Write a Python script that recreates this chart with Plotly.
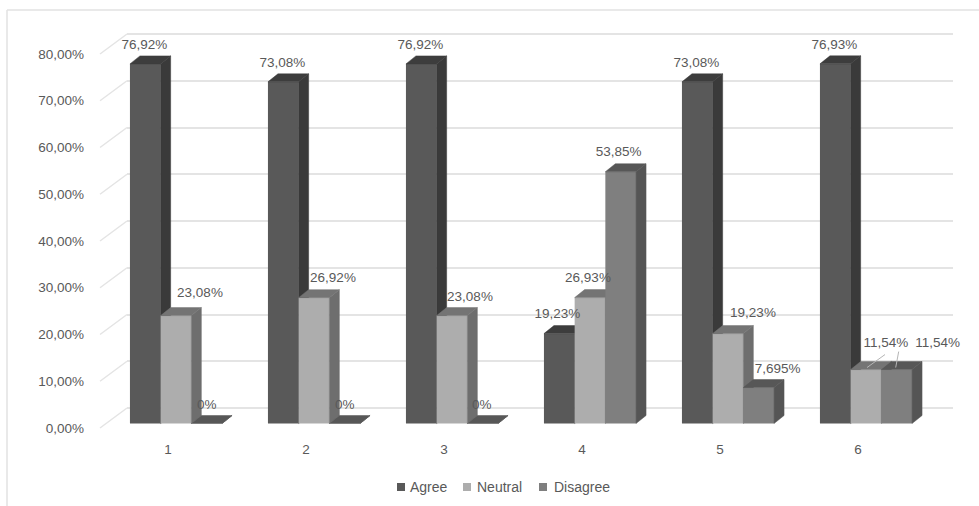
import plotly.graph_objects as go

# Survey results per question, in percent
questions = [1, 2, 3, 4, 5, 6]
agree = [76.92, 73.08, 76.92, 19.23, 73.08, 76.93]
neutral = [23.08, 26.92, 23.08, 26.93, 19.23, 11.54]
disagree = [0, 0, 0, 53.85, 7.695, 11.54]

agree_labels = ["76,92%", "73,08%", "76,92%", "19,23%", "73,08%", "76,93%"]
neutral_labels = ["23,08%", "26,92%", "23,08%", "26,93%", "19,23%", "11,54%"]
disagree_labels = ["0%", "0%", "0%", "53,85%", "7,695%", "11,54%"]

y_ticks = [0, 10, 20, 30, 40, 50, 60, 70, 80]
y_tick_labels = ["0,00%", "10,00%", "20,00%", "30,00%", "40,00%",
                 "50,00%", "60,00%", "70,00%", "80,00%"]

# Label placement relative to the top centre of each bar, in pixels
agree_nudge = [(-1, -18), (-1, -18), (-1, -18), (-2, -19), (-1, -18), (-1, -18)]
neutral_nudge = [(24, -22), (19, -19), (18, -18), (-2, -19), (25, -20), (20, -26)]
disagree_nudge = [(0, -18), (0, -18), (-1, -18), (-2, -19), (19, -18), (41, -26)]

# Layout of the drawing, in pixels
WIDTH, HEIGHT = 979, 506
LEFT, RIGHT, TOP, BOTTOM = 127, 953, 30, 430
PX_PER_GROUP = 138.0
PX_PER_UNIT = 4.675
WALL_ZERO = 408.0      # zero line on the back wall
FRONT_ZERO = 423.5     # foot of the bars
FIRST_CENTRE = 176.0   # centre of the first group of bars
BAR_PX = 30.7
DEPTH_X_PX, DEPTH_Y_PX = 10.0, 8.0
WALL_X_PX, WALL_Y_PX = 27.0, 20.0

TEXT = "#595959"
GRID = "#e4e4e4"
FONT = "Liberation Sans"
FONT_SIZE = 13.5

x_lo = 1 + (LEFT - FIRST_CENTRE) / PX_PER_GROUP
x_hi = 1 + (RIGHT - FIRST_CENTRE) / PX_PER_GROUP
wall_range = [(WALL_ZERO - BOTTOM) / PX_PER_UNIT, (WALL_ZERO - TOP) / PX_PER_UNIT]
bar_range = [(FRONT_ZERO - BOTTOM) / PX_PER_UNIT, (FRONT_ZERO - TOP) / PX_PER_UNIT]

bar_w = BAR_PX / PX_PER_GROUP
depth_x = DEPTH_X_PX / PX_PER_GROUP
depth_y = DEPTH_Y_PX / PX_PER_UNIT

series = [
    ("Agree", agree, "#595959", "#3a3a3a", "#3d3d3d", "x2", "y2"),
    ("Neutral", neutral, "#adadad", "#6e6e6e", "#747474", "x3", "y3"),
    ("Disagree", disagree, "#7f7f7f", "#555555", "#575757", "x4", "y4"),
]

fig = go.Figure()

# Back wall baseline, which also anchors the base subplot the others overlay
fig.add_trace(go.Scatter(
    x=[x_lo, x_hi], y=[0, 0], mode="lines", line=dict(color=GRID, width=1.5),
    hoverinfo="skip", showlegend=False,
))


def faces(index, values):
    """Outlines of the side and top faces of one series' bars."""
    side_x, side_y, top_x, top_y = [], [], [], []
    for q, v in zip(questions, values):
        x0 = q + (index - 1.5) * bar_w
        x1 = x0 + bar_w
        side_x += [x1, x1 + depth_x, x1 + depth_x, x1, x1, None]
        side_y += [0, depth_y, v + depth_y, v, 0, None]
        top_x += [x0, x0 + depth_x, x1 + depth_x, x1, x0, None]
        top_y += [v, v + depth_y, v + depth_y, v, v, None]
    return side_x, side_y, top_x, top_y


# One overlaid subplot per series so each series paints over the one behind it
for i, (name, values, front, side, top, xa, ya) in enumerate(series):
    sx, sy, tx, ty = faces(i, values)
    fig.add_trace(go.Bar(
        x=questions, y=values, name=name, width=bar_w, offset=(i - 1.5) * bar_w,
        marker=dict(color=front, line=dict(width=0)), xaxis=xa, yaxis=ya,
        showlegend=False,
    ))
    for fx, fy, colour in ((sx, sy, side), (tx, ty, top)):
        fig.add_trace(go.Scatter(
            x=fx, y=fy, mode="lines", fill="toself", fillcolor=colour,
            line=dict(width=0.5, color=colour), xaxis=xa, yaxis=ya,
            cliponaxis=False, hoverinfo="skip", showlegend=False,
        ))

# Value labels, on their own top layer
for i, (values, labels, nudges) in enumerate((
    (agree, agree_labels, agree_nudge),
    (neutral, neutral_labels, neutral_nudge),
    (disagree, disagree_labels, disagree_nudge),
)):
    fig.add_trace(go.Scatter(
        x=[q + (i - 1) * bar_w + n[0] / PX_PER_GROUP for q, n in zip(questions, nudges)],
        y=[v - n[1] / PX_PER_UNIT for v, n in zip(values, nudges)],
        text=labels, mode="text", textposition="middle center",
        textfont=dict(family=FONT, size=FONT_SIZE, color=TEXT),
        xaxis="x5", yaxis="y5", cliponaxis=False,
        hoverinfo="skip", showlegend=False,
    ))

# Leader lines for the two labels that sit away from their bars in question 6
for i, values, (start, end) in (
    (0, neutral, ((19, -15), (1, -2))),
    (1, disagree, ((2, -18), (-1, -2))),
):
    fig.add_trace(go.Scatter(
        x=[questions[-1] + i * bar_w + start[0] / PX_PER_GROUP,
           questions[-1] + i * bar_w + end[0] / PX_PER_GROUP],
        y=[values[-1] - start[1] / PX_PER_UNIT, values[-1] - end[1] / PX_PER_UNIT],
        mode="lines", line=dict(color="#b5b5b5", width=1),
        xaxis="x5", yaxis="y5", cliponaxis=False,
        hoverinfo="skip", showlegend=False,
    ))

layout_axes = {}
for n in (2, 3, 4, 5):
    layout_axes[f"xaxis{n}"] = dict(overlaying="x", range=[x_lo, x_hi], visible=False)
    layout_axes[f"yaxis{n}"] = dict(overlaying="y", range=bar_range, visible=False)


def px_x(px):
    return (px - LEFT) / (RIGHT - LEFT)


def px_y(px):
    return (BOTTOM - px) / (BOTTOM - TOP)


# Chart frame and legend row, placed on the page
shapes = [
    dict(type="line", xref="paper", yref="paper", x0=px_x(7), x1=px_x(WIDTH),
         y0=px_y(10), y1=px_y(10), line=dict(color="#e2e2e2", width=1.5), layer="below"),
    dict(type="line", xref="paper", yref="paper", x0=px_x(7), x1=px_x(7),
         y0=px_y(10), y1=px_y(HEIGHT), line=dict(color="#e2e2e2", width=1.5), layer="below"),
]
# Slanted side wall lines joining the axis labels to the back wall gridlines
for tick in y_ticks:
    shapes.append(dict(
        type="line", xref="paper", yref="y", x0=px_x(LEFT), x1=px_x(LEFT - WALL_X_PX),
        y0=tick, y1=tick - WALL_Y_PX / PX_PER_UNIT,
        line=dict(color=GRID, width=1.5), layer="below",
    ))
annotations = []
for (name, _, front, *_rest), box_left, text_left in zip(series, (397, 463, 539), (408, 475, 552)):
    shapes.append(dict(
        type="rect", xref="paper", yref="paper",
        x0=px_x(box_left), x1=px_x(box_left + 8), y0=px_y(483), y1=px_y(491),
        fillcolor=front, line=dict(width=0),
    ))
    annotations.append(dict(
        text=name, xref="paper", yref="paper", x=px_x(text_left), y=px_y(487),
        xanchor="left", yanchor="middle", showarrow=False,
        font=dict(family=FONT, size=14, color=TEXT),
    ))

fig.update_layout(
    width=WIDTH, height=HEIGHT,
    margin=dict(l=LEFT, r=WIDTH - RIGHT, t=TOP, b=HEIGHT - BOTTOM, autoexpand=False),
    paper_bgcolor="white", plot_bgcolor="white",
    barmode="overlay", showlegend=False,
    font=dict(family=FONT, size=FONT_SIZE, color=TEXT),
    xaxis=dict(
        range=[x_lo, x_hi], tickmode="array", tickvals=questions,
        ticktext=[str(q) for q in questions], showgrid=False, zeroline=False,
        showline=False, ticks="", ticklabelshift=-8, ticklabelstandoff=9,
        tickfont=dict(family=FONT, size=FONT_SIZE, color=TEXT),
    ),
    yaxis=dict(
        range=wall_range, tickmode="array", tickvals=y_ticks, ticktext=y_tick_labels,
        showgrid=True, gridcolor=GRID, gridwidth=1.5, zeroline=False, showline=False,
        ticks="", ticklabelshift=int(WALL_Y_PX), ticklabelstandoff=42,
        tickfont=dict(family=FONT, size=FONT_SIZE, color=TEXT),
    ),
    shapes=shapes, annotations=annotations,
    **layout_axes,
)

fig.write_html("out.html")
